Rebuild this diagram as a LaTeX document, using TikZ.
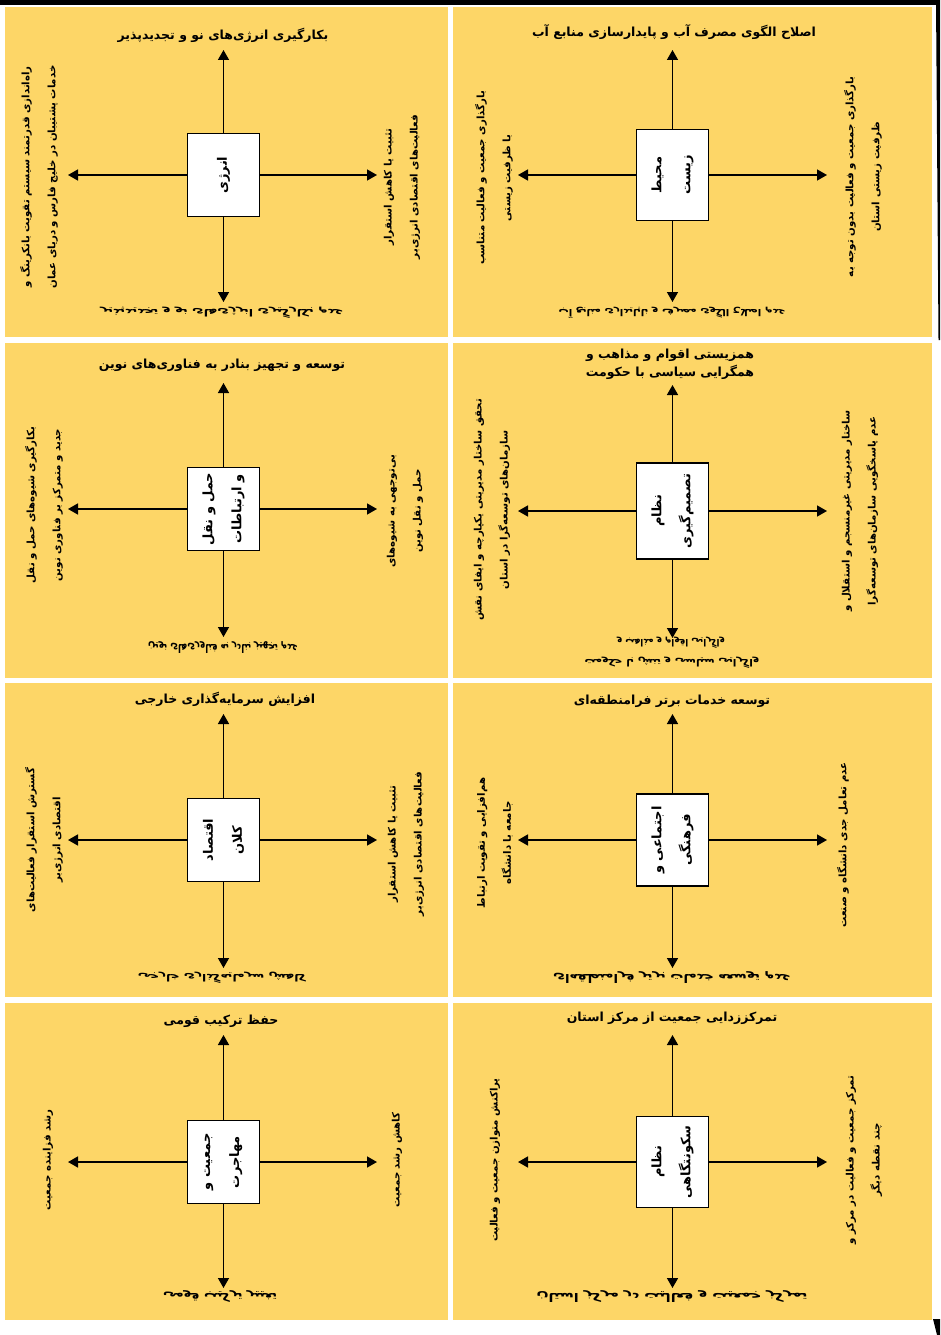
\documentclass[tikz,border=0pt]{standalone}
\usepackage{fontspec}
\usetikzlibrary{arrows.meta}
\newfontfamily\arabicfont[Script=Arabic]{DejaVu Sans}
\TeXXeTstate=1
\newcommand\fa[1]{\beginR #1\endR}
\newcommand\garb[2]{\scalebox{1}[-1]{\resizebox{#1pt}{9pt}{#2}}}
\definecolor{panelyellow}{HTML}{FDD667}
\tikzset{
  panelbg/.style={fill=panelyellow, draw=none},
  hub/.style={draw, fill=white, line width=1.4pt, rotate=90, minimum height=72pt,
    align=center, inner sep=2pt, font=\arabicfont\bfseries\fontsize{13}{29}\selectfont},
  axis/.style={line width=1.5pt, -{Triangle[length=10pt,width=11pt]}},
  toplab/.style={align=center, inner sep=0pt, font=\arabicfont\bfseries\fontsize{12.5}{18}\selectfont},
  sidelab/.style={rotate=90, align=center, inner sep=0pt, font=\arabicfont\bfseries\fontsize{10.2}{26}\selectfont},
  botlab/.style={align=center, inner sep=0pt, font=\arabicfont\bfseries\fontsize{9}{20}\selectfont}
}
\begin{document}
\begin{tikzpicture}[x=1pt,y=-1pt]
\useasboundingbox (0,0) rectangle (940,1335);
\fill[white] (0,0) rectangle (940,1335);
% page edges
\fill[black] (0,0) rectangle (940,5);
\fill[black] (936,0) -- (940,0) -- (940,340) -- (938.5,340) -- cycle;
\fill[black] (933,1319) -- (940,1319) -- (940,1335) -- (937,1335) -- cycle;
% panels
\fill[panelbg] (5,7) rectangle (448,337);
\fill[panelbg] (453,7) rectangle (932,337);
\fill[panelbg] (5,343) rectangle (448,678);
\fill[panelbg] (453,343) rectangle (932,678);
\fill[panelbg] (5,683) rectangle (448,997);
\fill[panelbg] (453,683) rectangle (932,997);
\fill[panelbg] (5,1003) rectangle (448,1320);
\fill[panelbg] (453,1003) rectangle (932,1320);

% ---------- Panel 1: energy ----------
\node[hub, minimum width=83pt] (h1) at (223.5,175) {\fa{انرژی}};
\coordinate (u1) at (223.5,50);
\coordinate (d1) at (223.5,302);
\coordinate (l1) at (68,175);
\coordinate (r1) at (377,175);
\draw[axis] (h1) -- (u1);
\draw[axis] (h1) -- (d1);
\draw[axis] (h1) -- (l1);
\draw[axis] (h1) -- (r1);
\node[toplab] (tu1) at (223,35) {\fa{بکارگیری انرژی‌های نو و تجدیدپذیر}};
\node[sidelab] (tl1) at (39,177) {\fa{راه‌اندازی قدرتمند سیستم تقویت بانکرینگ و}\\\fa{خدمات پشتیبان در خلیج فارس و دریای عمان}};
\node[sidelab] (tr1) at (402,187) {\fa{تثبیت یا کاهش استقرار}\\\fa{فعالیت‌های اقتصادی انرژی‌بر}};
\node[botlab] (td1) at (222,313) {\garb{243}{\beginR عدم بکارگیری انرژی‌های نو و تجدیدپذیر\endR}};

% ---------- Panel 2: environment ----------
\node[hub, minimum width=91pt] (h2) at (672.5,175) {\fa{محیط}\\\fa{زیست}};
\coordinate (u2) at (672.5,50);
\coordinate (d2) at (672.5,302);
\coordinate (l2) at (518,175);
\coordinate (r2) at (827,175);
\draw[axis] (h2) -- (u2);
\draw[axis] (h2) -- (d2);
\draw[axis] (h2) -- (l2);
\draw[axis] (h2) -- (r2);
\node[toplab] (tu2) at (674,32) {\fa{اصلاح الگوی مصرف آب و پایدارسازی منابع آب}};
\node[sidelab] (tl2) at (494,178) {\fa{بارگذاری جمعیت و فعالیت متناسب}\\\fa{با ظرفیت زیستی}};
\node[sidelab] (tr2) at (863,177) {\fa{بارگذاری جمعیت و فعالیت بدون توجه به}\\\fa{ظرفیت زیستی استان}};
\node[botlab] (td2) at (672,313) {\garb{227}{\beginR عدم اصلاح الگوی مصرف و ناپایداری منابع آب\endR}};

% ---------- Panel 3: transport ----------
\node[hub, minimum width=83pt] (h3) at (223.5,509) {\fa{حمل و نقل}\\\fa{و ارتباطات}};
\coordinate (u3) at (223.5,383);
\coordinate (d3) at (223.5,637);
\coordinate (l3) at (68,509);
\coordinate (r3) at (377,509);
\draw[axis] (h3) -- (u3);
\draw[axis] (h3) -- (d3);
\draw[axis] (h3) -- (l3);
\draw[axis] (h3) -- (r3);
\node[toplab] (tu3) at (222,365) {\fa{توسعه و تجهیز بنادر به فناوری‌های نوین}};
\node[sidelab] (tl3) at (44,505) {\fa{بکارگیری شیوه‌های حمل و نقل}\\\fa{جدید و متمرکز بر فناوری نوین}};
\node[sidelab] (tr3) at (405,511) {\fa{بی‌توجهی به شیوه‌های}\\\fa{حمل و نقل نوین}};
\node[botlab] (td3) at (223,648) {\garb{150}{\beginR عدم تجهیز بنادر به فناوری‌های نوین\endR}};

% ---------- Panel 4: decision system ----------
\node[hub, minimum width=96pt] (h4) at (672.5,511) {\fa{نظام}\\\fa{تصمیم‌گیری}};
\coordinate (u4) at (672.5,385);
\coordinate (d4) at (672.5,638);
\coordinate (l4) at (518,511);
\coordinate (r4) at (827,511);
\draw[axis] (h4) -- (u4);
\draw[axis] (h4) -- (d4);
\draw[axis] (h4) -- (l4);
\draw[axis] (h4) -- (r4);
\node[toplab] (tu4) at (670,364) {\fa{همزیستی اقوام و مذاهب و}\\\fa{همگرایی سیاسی با حکومت}};
\node[sidelab] (tl4) at (492,510) {\fa{تحقق ساختار مدیریتی یکپارچه و ایفای نقش}\\\fa{سازمان‌های توسعه‌گرا در استان}};
\node[sidelab] (tr4) at (860,511) {\fa{ساختار مدیریتی غیرمنسجم و استقلال و}\\\fa{عدم پاسخگویی سازمان‌های توسعه‌گرا}};
\node[botlab] (td4a) at (671,643) {\garb{108}{\beginR واگرایی اقوام و مذاهب و\endR}};
\node[botlab] (td4b) at (672,663) {\garb{175}{\beginR واگرایی سیاسی و تنش با حکومت\endR}};

% ---------- Panel 5: macro economy ----------
\node[hub, minimum width=83pt] (h5) at (223.5,840) {\fa{اقتصاد}\\\fa{کلان}};
\coordinate (u5) at (223.5,714);
\coordinate (d5) at (223.5,968);
\coordinate (l5) at (68,840);
\coordinate (r5) at (377,840);
\draw[axis] (h5) -- (u5);
\draw[axis] (h5) -- (d5);
\draw[axis] (h5) -- (l5);
\draw[axis] (h5) -- (r5);
\node[toplab] (tu5) at (225,699) {\fa{افزایش سرمایه‌گذاری خارجی}};
\node[sidelab] (tl5) at (44,840) {\fa{گسترش استقرار فعالیت‌های}\\\fa{اقتصادی انرژی‌بر}};
\node[sidelab] (tr5) at (406,844) {\fa{تثبیت یا کاهش استقرار}\\\fa{فعالیت‌های اقتصادی انرژی‌بر}};
\node[botlab] (td5) at (222,978) {\garb{168}{\beginR کاهش سرمایه‌گذاری خارجی\endR}};

% ---------- Panel 6: socio-cultural ----------
\node[hub, minimum width=92pt] (h6) at (672.5,840) {\fa{اجتماعی و}\\\fa{فرهنگی}};
\coordinate (u6) at (672.5,714);
\coordinate (d6) at (672.5,968);
\coordinate (l6) at (518,840);
\coordinate (r6) at (827,840);
\draw[axis] (h6) -- (u6);
\draw[axis] (h6) -- (d6);
\draw[axis] (h6) -- (l6);
\draw[axis] (h6) -- (r6);
\node[toplab] (tu6) at (672,701) {\fa{توسعه خدمات برتر فرامنطقه‌ای}};
\node[sidelab] (tl6) at (495,843) {\fa{هم‌افزایی و تقویت ارتباط}\\\fa{جامعه با دانشگاه}};
\node[sidelab] (tr6) at (843,845) {\fa{عدم تعامل جدی دانشگاه و صنعت}};
\node[botlab] (td6) at (672,978) {\garb{238}{\beginR عدم توسعه خدمات برتر فرامنطقه‌ای\endR}};

% ---------- Panel 7: population ----------
\node[hub, minimum width=83pt] (h7) at (223.5,1162) {\fa{جمعیت و}\\\fa{مهاجرت}};
\coordinate (u7) at (223.5,1035);
\coordinate (d7) at (223.5,1288);
\coordinate (l7) at (68,1162);
\coordinate (r7) at (377,1162);
\draw[axis] (h7) -- (u7);
\draw[axis] (h7) -- (d7);
\draw[axis] (h7) -- (l7);
\draw[axis] (h7) -- (r7);
\node[toplab] (tu7) at (221,1021) {\fa{حفظ ترکیب قومی}};
\node[sidelab] (tl7) at (48,1160) {\fa{رشد فزاینده جمعیت}};
\node[sidelab] (tr7) at (397,1160) {\fa{کاهش رشد جمعیت}};
\node[botlab] (td7) at (220,1297) {\garb{114}{\beginR تغییر ترکیب قومی\endR}};

% ---------- Panel 8: settlement system ----------
\node[hub, minimum width=91pt] (h8) at (672.5,1162) {\fa{نظام}\\\fa{سکونتگاهی}};
\coordinate (u8) at (672.5,1035);
\coordinate (d8) at (672.5,1288);
\coordinate (l8) at (518,1162);
\coordinate (r8) at (827,1162);
\draw[axis] (h8) -- (u8);
\draw[axis] (h8) -- (d8);
\draw[axis] (h8) -- (l8);
\draw[axis] (h8) -- (r8);
\node[toplab] (tu8) at (672,1018) {\fa{تمرکززدایی جمعیت از مرکز استان}};
\node[sidelab] (tl8) at (495,1160) {\fa{پراکنش متوازن جمعیت و فعالیت}};
\node[sidelab] (tr8) at (864,1160) {\fa{تمرکز جمعیت و فعالیت در مرکز و}\\\fa{چند نقطه دیگر}};
\node[botlab] (td8) at (672,1297) {\garb{271}{\beginR تمرکز جمعیت و فعالیت در مرکز استان\endR}};
\end{tikzpicture}
\end{document}
